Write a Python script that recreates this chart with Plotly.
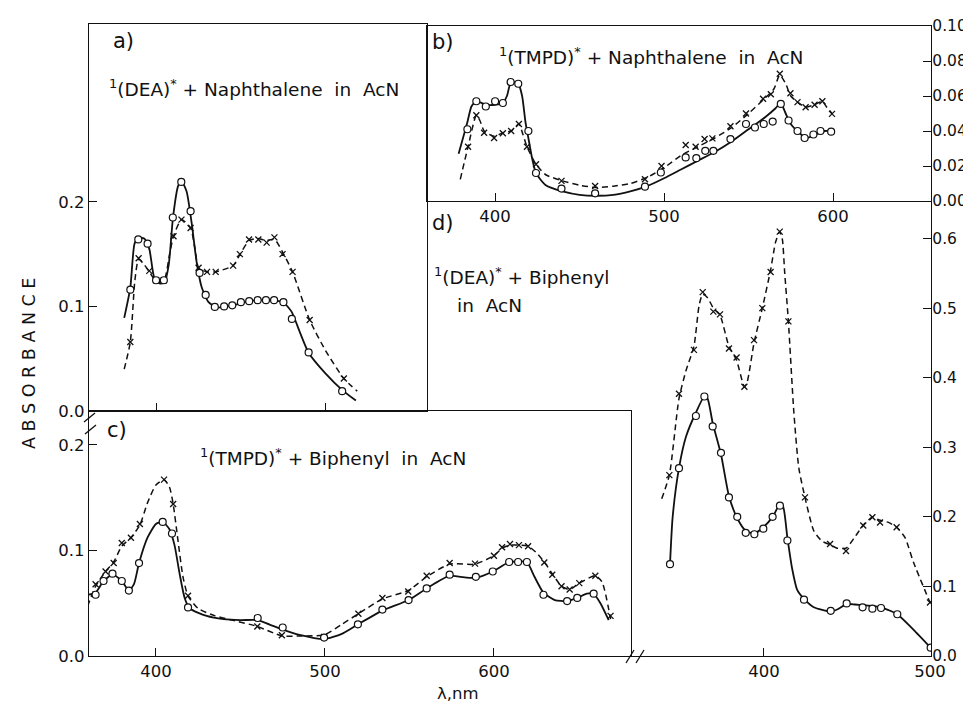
import plotly.graph_objects as go

W, H = 971, 705

# ---------------- Panel a: 1(DEA)* + Naphthalene in AcN ----------------
a_circ_x = [384.8, 389.5, 395.0, 400.0, 404.6, 409.9, 414.9, 420.4, 425.7, 429.3, 434.7, 440.2,
            445.0, 450.1, 455.0, 460.0, 464.9, 469.7, 475.2, 480.2, 490.1, 509.9]
a_circ_y = [0.116, 0.164, 0.160, 0.125, 0.125, 0.185, 0.219, 0.191, 0.132, 0.111, 0.0995, 0.100,
            0.101, 0.104, 0.105, 0.106, 0.106, 0.106, 0.104, 0.088, 0.056, 0.019]
a_cross_x = [384.8, 389.7, 396.0, 400.0, 404.6, 410.3, 415.0, 420.4, 425.1, 430.1, 435.2, 445.5,
             449.5, 454.9, 460.4, 465.3, 469.9, 474.7, 480.6, 490.7, 510.9]
a_cross_y = [0.066, 0.146, 0.134, 0.125, 0.125, 0.167, 0.183, 0.175, 0.137, 0.133, 0.133, 0.139,
             0.150, 0.164, 0.164, 0.161, 0.166, 0.150, 0.133, 0.087, 0.031]
a_solid_x = [381.2, 384.8, 387.3, 389.5, 393, 396, 399, 402, 405, 407.5, 410, 413, 415, 418, 421,
             424, 427, 431, 436, 445, 455, 465, 475, 480, 485, 490, 500, 510, 518]
a_solid_y = [0.089, 0.118, 0.160, 0.165, 0.165, 0.155, 0.127, 0.122, 0.123, 0.140, 0.185, 0.215,
             0.220, 0.210, 0.180, 0.142, 0.118, 0.104, 0.099, 0.101, 0.105, 0.106, 0.104, 0.095,
             0.075, 0.056, 0.036, 0.020, 0.010]
a_dash_x = [381.2, 384.8, 387.5, 389.7, 393, 396, 399, 402, 405, 408, 410.3, 415, 420.4, 423, 425.1,
            430, 435, 445.5, 450, 455, 460, 465, 470, 474.7, 480.6, 490.7, 500, 510.9, 518.8]
a_dash_y = [0.040, 0.066, 0.125, 0.145, 0.140, 0.133, 0.126, 0.123, 0.126, 0.150, 0.167, 0.183,
            0.175, 0.155, 0.137, 0.133, 0.133, 0.139, 0.151, 0.163, 0.165, 0.163, 0.164, 0.152,
            0.133, 0.087, 0.058, 0.031, 0.019]

# ---------------- Panel b: 1(TMPD)* + Naphthalene in AcN ----------------
b_circ_x = [383.6, 388.9, 394.5, 400.0, 404.6, 409.2, 413.7, 419.7, 424.2, 439.3, 459.2, 488.7,
            498.1, 512.8, 519.1, 524.4, 529.2, 539.3, 548.5, 553.8, 559.0, 564.3, 569.1, 573.7,
            579.0, 583.2, 588.4, 592.6, 598.9]
b_circ_y = [0.041, 0.057, 0.054, 0.057, 0.056, 0.068, 0.067, 0.040, 0.016, 0.0071, 0.0044, 0.0082,
            0.0163, 0.0249, 0.0245, 0.0287, 0.0287, 0.0354, 0.044, 0.042, 0.044, 0.0454, 0.0555,
            0.046, 0.040, 0.036, 0.038, 0.040, 0.0396]
b_cross_x = [384.0, 388.9, 393.5, 399.4, 404.6, 409.5, 414.1, 418.9, 424.2, 439.3, 459.2, 488.7,
             498.5, 512.8, 518.7, 524.0, 528.6, 539.3, 548.5, 558.6, 563.2, 568.5, 574.8, 579.0,
             583.8, 589.1, 593.7, 599.4]
b_cross_y = [0.031, 0.049, 0.039, 0.036, 0.0387, 0.040, 0.044, 0.031, 0.021, 0.0115, 0.0086, 0.0124,
             0.020, 0.032, 0.031, 0.0354, 0.0358, 0.0427, 0.050, 0.0584, 0.061, 0.0727, 0.0616,
             0.0565, 0.0536, 0.055, 0.057, 0.0498]
b_solid_x = [378.4, 381, 383.6, 386, 388.9, 394.5, 400, 404.6, 407, 409.5, 413.7, 416, 418, 419.7,
             422, 424.2, 430, 440, 450, 460, 470, 480, 490, 500, 510, 520, 530, 540, 550, 560,
             566, 569, 572, 575, 580, 584, 590, 595, 600]
b_solid_y = [0.027, 0.036, 0.045, 0.054, 0.057, 0.055, 0.055, 0.056, 0.060, 0.068, 0.067, 0.060,
             0.045, 0.036, 0.024, 0.016, 0.009, 0.0055, 0.0035, 0.003, 0.0035, 0.0055, 0.0085,
             0.013, 0.018, 0.023, 0.028, 0.034, 0.041, 0.048, 0.053, 0.056, 0.050, 0.044, 0.039,
             0.036, 0.038, 0.040, 0.040]
b_dash_x = [379.4, 384, 388.9, 391, 393.5, 399.4, 404.6, 409.5, 414.1, 416.5, 418.9, 424.2, 430,
            440, 450, 460, 470, 480, 490, 500, 510, 520, 530, 540, 550, 560, 565, 568.5, 572,
            575, 579, 583.8, 589, 593.7, 596, 599.4]
b_dash_y = [0.0124, 0.031, 0.049, 0.046, 0.040, 0.037, 0.039, 0.040, 0.044, 0.038, 0.031, 0.021,
            0.015, 0.0115, 0.009, 0.0077, 0.0085, 0.010, 0.0135, 0.019, 0.026, 0.031, 0.036,
            0.042, 0.050, 0.059, 0.064, 0.072, 0.067, 0.060, 0.0565, 0.0536, 0.055, 0.057,
            0.054, 0.050]

# ---------------- Panel c: 1(TMPD)* + Biphenyl in AcN ----------------
c_circ_x = [364.3, 369.0, 374.3, 379.8, 384.0, 390.0, 404.0, 409.5, 419.0, 460.2, 475.0, 499.5,
            519.5, 534.0, 549.5, 560.2, 573.8, 589.3, 599.3, 609.0, 614.3, 619.5, 629.3, 643.3,
            649.3, 659.0]
c_circ_y = [0.058, 0.071, 0.078, 0.071, 0.062, 0.088, 0.127, 0.116, 0.046, 0.036, 0.027, 0.0174,
            0.030, 0.044, 0.053, 0.064, 0.077, 0.075, 0.080, 0.089, 0.089, 0.089, 0.058, 0.052,
            0.055, 0.059]
c_cross_x = [364.3, 370.2, 375.0, 379.8, 385.2, 390.5, 404.8, 410.2, 419.0, 460.0, 474.5, 499.5,
             519.8, 534.0, 549.3, 560.2, 573.8, 588.8, 600.0, 604.8, 609.5, 614.8, 620.2, 629.8,
             634.5, 640.0, 644.8, 650.5, 660.0, 669.0]
c_cross_y = [0.068, 0.080, 0.088, 0.107, 0.112, 0.125, 0.167, 0.144, 0.057, 0.028, 0.0196, 0.018,
             0.040, 0.055, 0.061, 0.076, 0.088, 0.0875, 0.095, 0.103, 0.106, 0.105, 0.104, 0.0885,
             0.077, 0.066, 0.063, 0.069, 0.076, 0.038]
c_solid_x = [359.5, 364.3, 369, 374.3, 379.8, 384, 387, 390, 395, 400, 404, 408, 411, 414, 417, 420,
             430, 440, 450, 460.2, 467, 475, 485, 499.5, 510, 519.5, 534, 549.5, 560.2, 573.8, 580,
             589.3, 599.3, 609, 614.3, 619.5, 624, 629.3, 636, 643.3, 649.3, 655, 659, 663, 667.9]
c_solid_y = [0.058, 0.060, 0.071, 0.077, 0.071, 0.062, 0.068, 0.088, 0.112, 0.125, 0.127, 0.120,
             0.105, 0.078, 0.055, 0.045, 0.038, 0.035, 0.034, 0.034, 0.030, 0.025, 0.020, 0.016,
             0.021, 0.030, 0.043, 0.053, 0.064, 0.076, 0.075, 0.074, 0.080, 0.089, 0.0895, 0.089,
             0.075, 0.060, 0.053, 0.052, 0.055, 0.059, 0.059, 0.050, 0.034]
c_dash_x = [359.5, 364.3, 370.2, 375, 379.8, 385.2, 390.5, 395, 400, 404.8, 408, 410.2, 413, 416,
            419, 425, 435, 445, 460, 474.5, 485, 499.5, 510, 519.8, 534, 549.3, 560.2, 573.8,
            588.8, 600, 604.8, 609.5, 614.8, 620.2, 625, 629.8, 634.5, 640, 644.8, 650.5, 660,
            664, 669]
c_dash_y = [0.047, 0.066, 0.080, 0.089, 0.104, 0.112, 0.124, 0.145, 0.162, 0.167, 0.160, 0.144,
            0.110, 0.075, 0.057, 0.045, 0.038, 0.034, 0.028, 0.019, 0.019, 0.020, 0.030, 0.040,
            0.054, 0.062, 0.075, 0.087, 0.087, 0.095, 0.102, 0.105, 0.105, 0.104, 0.098, 0.089,
            0.078, 0.066, 0.063, 0.069, 0.076, 0.070, 0.035]

# ---------------- Panel d: 1(DEA)* + Biphenyl in AcN ----------------
d_circ_x = [343.4, 348.8, 359.0, 364.1, 369.1, 374.1, 378.9, 383.9, 389.0, 394.2, 399.6, 405.2,
            409.6, 414.1, 424.1, 440.2, 449.8, 459.4, 465.3, 470.5, 480.3, 500.4]
d_circ_y = [0.132, 0.270, 0.345, 0.373, 0.330, 0.292, 0.228, 0.200, 0.177, 0.175, 0.183, 0.200,
            0.216, 0.166, 0.081, 0.065, 0.0755, 0.070, 0.068, 0.069, 0.060, 0.012]
d_cross_x = [343.0, 348.8, 357.8, 363.1, 369.5, 373.5, 378.9, 383.5, 388.2, 394.0, 399.0, 404.0,
             409.5, 414.7, 424.7, 439.8, 449.4, 459.8, 465.3, 469.9, 479.9, 500.0]
d_cross_y = [0.260, 0.377, 0.440, 0.523, 0.495, 0.491, 0.442, 0.429, 0.387, 0.454, 0.500, 0.552,
             0.610, 0.481, 0.228, 0.161, 0.151, 0.1875, 0.1995, 0.192, 0.185, 0.077]
d_solid_x = [343.4, 345, 348.8, 353, 359, 364.1, 366, 369.1, 374.1, 378.9, 383.9, 389, 394.2,
             399.6, 405.2, 409.6, 411.5, 414.1, 417, 420, 424.1, 430, 440.2, 445, 449.8, 455,
             459.4, 465.3, 470.5, 475, 480.3, 490, 500.4]
d_solid_y = [0.132, 0.200, 0.270, 0.315, 0.350, 0.373, 0.370, 0.335, 0.290, 0.230, 0.198, 0.180,
             0.176, 0.185, 0.200, 0.218, 0.215, 0.170, 0.125, 0.095, 0.082, 0.070, 0.064, 0.068,
             0.075, 0.074, 0.073, 0.072, 0.070, 0.066, 0.060, 0.038, 0.012]
d_dash_x = [338.4, 343, 348.8, 353, 357.8, 361, 363.1, 366, 369.5, 373.5, 378.9, 383.5, 388.2, 390,
            394, 399, 404, 407, 409.5, 411, 412.5, 414.7, 418, 421, 424.7, 430, 435, 439.8, 444,
            449.4, 455, 459.8, 465.3, 469.9, 475, 479.9, 485, 490, 500]
d_dash_y = [0.226, 0.260, 0.370, 0.410, 0.445, 0.505, 0.520, 0.515, 0.500, 0.490, 0.445, 0.425,
            0.387, 0.395, 0.450, 0.500, 0.555, 0.595, 0.610, 0.600, 0.550, 0.481, 0.350, 0.270,
            0.228, 0.180, 0.165, 0.160, 0.155, 0.155, 0.172, 0.188, 0.1995, 0.195, 0.192, 0.185,
            0.170, 0.135, 0.077]

# tick values / labels
a_yticks = [0.0, 0.1, 0.2]
b_yticks = [0.0, 0.02, 0.04, 0.06, 0.08, 0.10]
c_yticks = [0.0, 0.1, 0.2]
d_yticks = [0.0, 0.1, 0.2, 0.3, 0.4, 0.5, 0.6]
a_xticks = [400, 500]
b_xticks = [400, 500, 600]
c_xticks = [400, 500, 600]
d_xticks = [400, 500]

FONT = "DejaVu Sans"
BLACK = "#111111"


def px(x):
    return x / W


def py(y):
    return 1 - y / H


fig = go.Figure()

panels = [
    ("x", "y", a_solid_x, a_solid_y, a_dash_x, a_dash_y, a_circ_x, a_circ_y, a_cross_x, a_cross_y),
    ("x2", "y2", b_solid_x, b_solid_y, b_dash_x, b_dash_y, b_circ_x, b_circ_y, b_cross_x, b_cross_y),
    ("x3", "y3", c_solid_x, c_solid_y, c_dash_x, c_dash_y, c_circ_x, c_circ_y, c_cross_x, c_cross_y),
    ("x4", "y4", d_solid_x, d_solid_y, d_dash_x, d_dash_y, d_circ_x, d_circ_y, d_cross_x, d_cross_y),
]
for xa, ya, sx, sy, dx, dy, cx, cy, kx, ky in panels:
    fig.add_trace(go.Scatter(x=dx, y=dy, xaxis=xa, yaxis=ya, mode="lines",
                             line=dict(color=BLACK, width=1.5, dash="6px,4px", shape="spline", smoothing=0.6),
                             showlegend=False, hoverinfo="skip"))
    fig.add_trace(go.Scatter(x=sx, y=sy, xaxis=xa, yaxis=ya, mode="lines",
                             line=dict(color=BLACK, width=1.8, shape="spline", smoothing=0.6),
                             showlegend=False, hoverinfo="skip"))
    fig.add_trace(go.Scatter(x=kx, y=ky, xaxis=xa, yaxis=ya, mode="markers",
                             marker=dict(symbol="x-thin-open", size=6, color=BLACK,
                                         line=dict(color=BLACK, width=1.3)),
                             showlegend=False))
    fig.add_trace(go.Scatter(x=cx, y=cy, xaxis=xa, yaxis=ya, mode="markers",
                             marker=dict(symbol="circle", size=7, color="white",
                                         line=dict(color=BLACK, width=1.2)),
                             showlegend=False))

tickfont = dict(family=FONT, size=16.5, color=BLACK)
rtickfont = dict(family=FONT, size=15.5, color=BLACK)
common = dict(showgrid=False, zeroline=False, showline=True, linecolor=BLACK, linewidth=1.4,
              ticks="inside", ticklen=8, tickwidth=1.2, tickcolor=BLACK,
              fixedrange=True)

fig.update_layout(
    width=W, height=H,
    margin=dict(l=0, r=0, t=0, b=0, pad=0, autoexpand=False),
    paper_bgcolor="white", plot_bgcolor="white",
    font=dict(family=FONT, color=BLACK),
    xaxis=dict(domain=[px(81), px(419)], range=[360.4, 560], tickvals=a_xticks,
               showticklabels=False, mirror=True, anchor="y", tickfont=tickfont, **common),
    yaxis=dict(domain=[py(403), py(16)], range=[0, 0.370], tickvals=a_yticks,
               ticktext=[f"{v:.1f}" for v in a_yticks], mirror=True, anchor="x",
               tickfont=tickfont, **common),
    xaxis2=dict(domain=[px(419), px(923)], range=[359.7, 658], tickvals=b_xticks,
                ticktext=[str(v) for v in b_xticks], mirror=True, anchor="y2",
                tickfont=tickfont, **common),
    yaxis2=dict(domain=[py(193), py(18)], range=[0, 0.1], tickvals=b_yticks,
                ticktext=[f"{v:.2f}" for v in b_yticks], side="right", mirror=True,
                anchor="x2", tickfont=rtickfont, ticklabelstandoff=-3, **common),
    xaxis3=dict(domain=[px(81), px(623)], range=[360.4, 681.1], tickvals=c_xticks,
                ticktext=[str(v) for v in c_xticks], mirror=True, anchor="y3",
                tickfont=tickfont, **common),
    yaxis3=dict(domain=[py(648), py(403)], range=[0, 0.232], tickvals=c_yticks,
                ticktext=[f"{v:.1f}" for v in c_yticks], mirror=True, anchor="x3",
                tickfont=tickfont, **common),
    xaxis4=dict(domain=[px(623), px(923)], range=[319.9, 500.6], tickvals=d_xticks,
                ticktext=[str(v) for v in d_xticks], mirror=False, anchor="y4",
                tickfont=tickfont, **common),
    yaxis4=dict(domain=[py(648), py(193)], range=[0, 0.654], tickvals=d_yticks,
                ticktext=[f"{v:.1f}" for v in d_yticks], side="right", mirror=False,
                anchor="x4", tickfont=rtickfont, ticklabelstandoff=-3, **common),
)

NB = "\u00a0"
TS = 18.5
ann = [
    ("a)", 103, 33, 21),
    ("b)", 422, 34, 21),
    ("c)", 97, 422, 21),
    ("d)", 422, 215, 21),
    (f"<sup>1</sup>(DEA)<sup>*</sup>{NB}+ Naphthalene{NB}{NB}in{NB}{NB}AcN", 99, 80, TS),
    (f"<sup>1</sup>(TMPD)<sup>*</sup>{NB}+ Naphthalene{NB}{NB}in{NB}{NB}AcN", 489, 48, TS),
    (f"<sup>1</sup>(TMPD)<sup>*</sup>{NB}+ Biphenyl{NB}{NB}in{NB}{NB}AcN", 190, 449, TS),
    (f"<sup>1</sup>(DEA)<sup>*</sup>{NB}+ Biphenyl", 424, 268, TS),
    (f"in{NB}{NB}AcN", 447, 298, TS),
]
for text, x, y, size in ann:
    fig.add_annotation(text=text, x=px(x), y=py(y), xref="paper", yref="paper",
                       xanchor="left", yanchor="middle", showarrow=False,
                       font=dict(family=FONT, size=size, color=BLACK))

fig.add_annotation(text="A B S O R B A N C E", x=px(21), y=py(356), xref="paper", yref="paper",
                   textangle=-90, showarrow=False, xanchor="center", yanchor="middle",
                   font=dict(family=FONT, size=17.5, color=BLACK))
fig.add_annotation(text="λ,nm", x=px(450), y=py(685), xref="paper", yref="paper",
                   showarrow=False, xanchor="center", yanchor="middle",
                   font=dict(family=FONT, size=16.5, color=BLACK))

# axis-break marks
breaks = [((76, 414), (87, 405)), ((77, 426), (88, 417)),
          ((618, 655), (626, 642)), ((628, 655), (636, 642))]
for (x0, y0), (x1, y1) in breaks:
    fig.add_shape(type="line", xref="paper", yref="paper", x0=px(x0), y0=py(y0), x1=px(x1), y1=py(y1),
                  line=dict(color=BLACK, width=1.3))

fig.write_html("out.html")
